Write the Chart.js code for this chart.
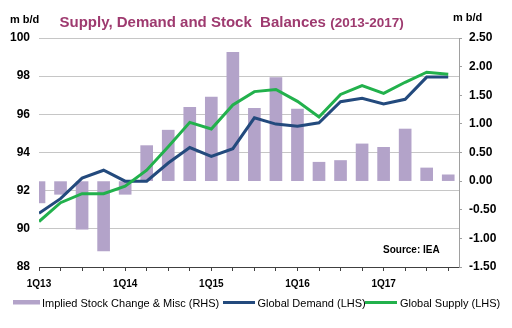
<!DOCTYPE html>
<html>
<head>
<meta charset="utf-8">
<script src="https://cdn.jsdelivr.net/npm/chart.js@4/dist/chart.umd.min.js"></script>
<style>
  html, body { margin: 0; padding: 0; background: #ffffff; }
  #wrap { width: 512px; height: 328px; position: relative; }
</style>
</head>
<body>
<div id="wrap"><canvas id="chart" width="512" height="328"></canvas></div>
<script>
// Quarterly oil market balance, 2013-2017 (mb/d)
const quarters = [
  '1Q13', '2Q13', '3Q13', '4Q13',
  '1Q14', '2Q14', '3Q14', '4Q14',
  '1Q15', '2Q15', '3Q15', '4Q15',
  '1Q16', '2Q16', '3Q16', '4Q16',
  '1Q17', '2Q17', '3Q17', '4Q17'
];
const globalDemand = [
  90.82, 91.58, 92.66, 93.07,
  92.50, 92.50, 93.45, 94.26,
  93.80, 94.20, 95.82, 95.49,
  95.38, 95.56, 96.66, 96.84,
  96.54, 96.79, 97.95, 97.95
];
const globalSupply = [
  90.38, 91.37, 91.84, 91.84,
  92.24, 93.07, 94.30, 95.58,
  95.23, 96.49, 97.19, 97.30,
  96.68, 95.86, 97.04, 97.51,
  97.10, 97.68, 98.21, 98.10
];
const stockChange = [
  -0.38, -0.23, -0.84, -1.22,
  -0.23,  0.62,  0.89,  1.29,
   1.47,  2.25,  1.27,  1.81,
   1.26,  0.33,  0.36,  0.65,
   0.59,  0.91,  0.23,  0.11
];
const lhsTicks = [88, 90, 92, 94, 96, 98, 100];
const rhsTicks = [-1.5, -1.0, -0.5, 0.0, 0.5, 1.0, 1.5, 2.0, 2.5];

const FONT = "'Liberation Sans', Arial, sans-serif";
const toPoints = arr => arr.map((v, i) => ({ x: i, y: v }));

// Title, unit captions and source note
const annotations = {
  id: 'annotations',
  afterDraw(chart) {
    const ctx = chart.ctx;
    ctx.save();
    ctx.textBaseline = 'alphabetic';
    ctx.textAlign = 'left';
    ctx.fillStyle = '#9e3a6f';
    ctx.font = 'bold 15px ' + FONT;
    const main = 'Supply, Demand and Stock  Balances ';
    ctx.fillText(main, 59.5, 26.5);
    const w = ctx.measureText(main).width;
    ctx.font = 'bold 13.5px ' + FONT;
    ctx.fillText('(2013-2017)', 59.5 + w, 26.5);

    ctx.fillStyle = '#000000';
    ctx.font = 'bold 11px ' + FONT;
    ctx.fillText('m b/d', 10, 22.5);
    ctx.fillText('m b/d', 453, 20.5);

    ctx.font = 'bold 10px ' + FONT;
    ctx.fillText('Source: IEA', 383, 253);
    ctx.restore();
  }
};

// Legend row along the bottom edge
const bottomLegend = {
  id: 'bottomLegend',
  afterDraw(chart) {
    const ctx = chart.ctx;
    const ds = chart.data.datasets;
    const items = [
      { ds: ds[0], x0: 13, x1: 40, tx: 42, kind: 'box' },
      { ds: ds[1], x0: 223, x1: 255, tx: 257.5, kind: 'line' },
      { ds: ds[2], x0: 365, x1: 397, tx: 400, kind: 'line' }
    ];
    const y = 302.5;
    ctx.save();
    ctx.font = '11px ' + FONT;
    ctx.textBaseline = 'middle';
    ctx.textAlign = 'left';
    items.forEach(it => {
      if (it.kind === 'box') {
        ctx.fillStyle = it.ds.backgroundColor;
        ctx.fillRect(it.x0, y - 2.5, it.x1 - it.x0, 4.5);
      } else {
        ctx.strokeStyle = it.ds.borderColor;
        ctx.lineWidth = 3;
        ctx.beginPath();
        ctx.moveTo(it.x0, y);
        ctx.lineTo(it.x1, y);
        ctx.stroke();
      }
      ctx.fillStyle = '#000000';
      ctx.fillText(it.ds.label, it.tx, y + 1);
    });
    ctx.restore();
  }
};

new Chart(document.getElementById('chart'), {
  type: 'bar',
  data: {
    datasets: [
      {
        type: 'bar',
        label: 'Implied Stock Change & Misc (RHS)',
        data: toPoints(stockChange),
        yAxisID: 'yR',
        backgroundColor: '#b3a3c9',
        borderWidth: 0,
        barThickness: 12,
        clip: 0,
        order: 3
      },
      {
        type: 'line',
        label: 'Global Demand (LHS)',
        data: toPoints(globalDemand),
        yAxisID: 'yL',
        borderColor: '#234a7d',
        backgroundColor: '#234a7d',
        borderWidth: 3,
        pointRadius: 0,
        tension: 0,
        fill: false,
        order: 2
      },
      {
        type: 'line',
        label: 'Global Supply (LHS)',
        data: toPoints(globalSupply),
        yAxisID: 'yL',
        borderColor: '#22b14c',
        backgroundColor: '#22b14c',
        borderWidth: 3,
        pointRadius: 0,
        tension: 0,
        fill: false,
        order: 1
      }
    ]
  },
  options: {
    responsive: false,
    devicePixelRatio: 1,
    animation: false,
    layout: { padding: { top: 38, bottom: 0, left: 0, right: 0 } },
    plugins: {
      legend: { display: false },
      title: { display: false },
      tooltip: { enabled: false }
    },
    scales: {
      x: {
        type: 'linear',
        position: 'bottom',
        min: 0,
        max: quarters.length - 0.5,
        offset: false,
        grid: {
          offset: false,
          drawOnChartArea: false,
          drawTicks: true,
          tickLength: 4,
          color: '#404040'
        },
        border: { display: true, color: '#404040', width: 1 },
        ticks: {
          stepSize: 1,
          includeBounds: false,
          autoSkip: false,
          maxRotation: 0,
          padding: 7,
          color: '#000000',
          font: { family: FONT, size: 10, weight: 'bold' },
          callback: v => {
            const q = quarters[v];
            return q && q.startsWith('1Q') ? q : '';
          }
        },
        afterFit: s => { s.height = 61; }
      },
      yL: {
        type: 'linear',
        position: 'left',
        min: lhsTicks[0],
        max: lhsTicks[lhsTicks.length - 1],
        grid: { drawTicks: false, color: '#c6c6c6', lineWidth: 1 },
        border: { display: false },
        ticks: {
          stepSize: lhsTicks[1] - lhsTicks[0],
          padding: 9,
          color: '#000000',
          font: { family: FONT, size: 12, weight: 'bold' },
          callback: v => String(v)
        },
        afterFit: s => { s.width = 39; }
      },
      yR: {
        type: 'linear',
        position: 'right',
        min: rhsTicks[0],
        max: rhsTicks[rhsTicks.length - 1],
        grid: {
          drawOnChartArea: false,
          drawTicks: true,
          tickLength: 3,
          color: '#a0a0a0'
        },
        border: { display: true, color: '#a0a0a0', width: 1 },
        ticks: {
          stepSize: rhsTicks[1] - rhsTicks[0],
          padding: 7,
          color: '#000000',
          font: { family: FONT, size: 12, weight: 'bold' },
          callback: v => Number(v).toFixed(2)
        },
        afterFit: s => { s.width = 53; }
      }
    }
  },
  plugins: [annotations, bottomLegend]
});
</script>
</body>
</html>
